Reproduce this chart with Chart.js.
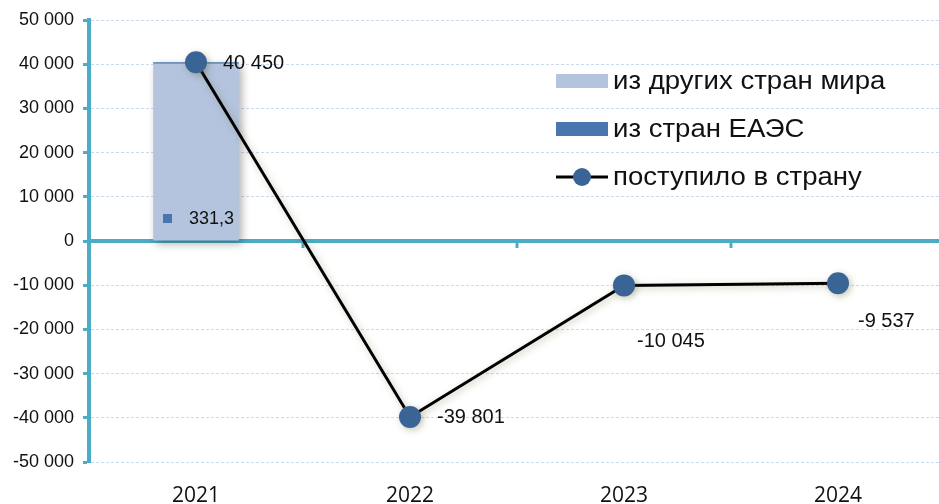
<!DOCTYPE html>
<html>
<head>
<meta charset="utf-8">
<script src="https://cdn.jsdelivr.net/npm/chart.js@4/dist/chart.umd.min.js"></script>
<style>
    html, body { margin: 0; padding: 0; background: #fff; overflow: hidden; }
</style>
</head>
<body>
<canvas id="chart" width="960" height="504"></canvas>
<script>
const years = ["2021", "2022", "2023", "2024"];
const fromOtherCountries = [40118.7, null, null, null];
const fromEaeu = [331.3, null, null, null];
const netInflow = [40450, -39801, -10045, -9537];

const seriesNames = ["из других стран мира", "из стран ЕАЭС", "поступило в страну"];
const eaeuLabels = ["331,3", null, null, null];

// where each line label sits relative to its point
const labelOffsets = [[27, 1], [27, 1], [13, 56], [20, 38]];

const teal = "#4BACC6";
const lightBar = "#B4C4DE";
const darkBar = "#4A76B0";
const pointColor = "#3B6496";

function formatNumber(v) {
    let s = String(Math.abs(Math.round(v))).replace(/\B(?=(\d{3})+(?!\d))/g, " ");
    return (v < 0 ? "-" : "") + s;
}

const shadowPlugin = {
    id: "shadows",
    beforeDatasetDraw(chart, args) {
        const ctx = chart.ctx;
        ctx.save();
        if (args.index === 2) {
            ctx.shadowColor = "rgba(90, 90, 40, 0.35)";
            ctx.shadowBlur = 7;
            ctx.shadowOffsetX = 2;
            ctx.shadowOffsetY = 2;
        } else {
            ctx.shadowColor = "rgba(0, 0, 0, 0.3)";
            ctx.shadowBlur = 8;
            ctx.shadowOffsetX = 3;
            ctx.shadowOffsetY = 3;
        }
    },
    afterDatasetDraw(chart) {
        chart.ctx.restore();
    }
};

const zeroLinePlugin = {
    id: "zeroLine",
    beforeDatasetsDraw(chart) {
        const ctx = chart.ctx;
        const area = chart.chartArea;
        const x = chart.scales.x;
        const y0 = chart.scales.y.getPixelForValue(0);
        ctx.save();
        ctx.strokeStyle = teal;
        ctx.lineWidth = 4;
        ctx.beginPath();
        ctx.moveTo(area.left, y0);
        ctx.lineTo(area.right, y0);
        ctx.stroke();
        // category boundary ticks
        ctx.lineWidth = 3;
        const step = x.getPixelForValue(1) - x.getPixelForValue(0);
        for (let i = 0; i < years.length - 1; i++) {
            const bx = x.getPixelForValue(i) + step / 2;
            ctx.beginPath();
            ctx.moveTo(bx, y0);
            ctx.lineTo(bx, y0 + 7);
            ctx.stroke();
        }
        ctx.restore();
    }
};

const labelsPlugin = {
    id: "valueLabels",
    afterDatasetsDraw(chart) {
        const ctx = chart.ctx;
        ctx.save();
        ctx.fillStyle = "#111";
        ctx.textAlign = "left";
        ctx.textBaseline = "middle";
        ctx.font = "20px 'Liberation Sans', Arial, sans-serif";
        chart.getDatasetMeta(2).data.forEach((pt, i) => {
            const off = labelOffsets[i];
            ctx.fillText(formatNumber(netInflow[i]), pt.x + off[0], pt.y + off[1]);
        });

        ctx.font = "18px 'Liberation Sans', Arial, sans-serif";
        const y0 = chart.scales.y.getPixelForValue(0);
        chart.getDatasetMeta(1).data.forEach((bar, i) => {
            if (!eaeuLabels[i]) return;
            ctx.fillStyle = darkBar;
            ctx.fillRect(bar.x - 33, y0 - 27, 9, 9);
            ctx.fillStyle = "#111";
            ctx.fillText(eaeuLabels[i], bar.x - 7, y0 - 22);
        });
        ctx.restore();
    }
};

const legendPlugin = {
    id: "insideLegend",
    afterDraw(chart) {
        const ctx = chart.ctx;
        const left = 556;
        const top = 81;
        const gap = 48;
        ctx.save();
        ctx.textBaseline = "middle";
        ctx.textAlign = "left";

        ctx.fillStyle = lightBar;
        ctx.fillRect(left, top - 7, 52, 14);
        ctx.fillStyle = darkBar;
        ctx.fillRect(left, top + gap - 7, 52, 14);

        const ly = top + gap * 2;
        ctx.strokeStyle = "#000";
        ctx.lineWidth = 3;
        ctx.beginPath();
        ctx.moveTo(left, ly);
        ctx.lineTo(left + 52, ly);
        ctx.stroke();
        ctx.fillStyle = pointColor;
        ctx.beginPath();
        ctx.arc(left + 26, ly, 9, 0, Math.PI * 2);
        ctx.fill();

        ctx.fillStyle = "#111";
        ctx.font = "26px 'Liberation Sans', Arial, sans-serif";
        for (let i = 0; i < seriesNames.length; i++) {
            ctx.save();
            ctx.translate(left + 57, top + gap * i + 1);
            ctx.scale(1.06, 1);
            ctx.fillText(seriesNames[i], 0, 0);
            ctx.restore();
        }
        ctx.restore();
    }
};

new Chart(document.getElementById("chart"), {
    data: {
        labels: years,
        datasets: [
            {
                type: "bar",
                label: seriesNames[1],
                data: fromEaeu,
                backgroundColor: darkBar,
                stack: "bars",
                order: 2,
                categoryPercentage: 1,
                barPercentage: 0.4
            },
            {
                type: "bar",
                label: seriesNames[0],
                data: fromOtherCountries,
                backgroundColor: lightBar,
                stack: "bars",
                order: 1,
                categoryPercentage: 1,
                barPercentage: 0.4
            },
            {
                type: "line",
                label: seriesNames[2],
                data: netInflow,
                borderColor: "#000",
                borderWidth: 3,
                pointRadius: 11,
                pointBackgroundColor: pointColor,
                pointBorderWidth: 0,
                stack: "line",
                order: 0,
                tension: 0
            }
        ]
    },
    options: {
        responsive: false,
        animation: false,
        layout: { padding: { top: 20, right: 15, left: 0, bottom: 0 } },
        plugins: {
            legend: { display: false },
            tooltip: { enabled: false }
        },
        scales: {
            x: {
                stacked: true,
                offset: true,
                grid: { display: false },
                border: { display: false },
                ticks: {
                    color: "#111",
                    padding: 13,
                    font: { family: "'Open Sans', sans-serif", size: 21 }
                },
                afterFit(scale) { scale.height = 42; }
            },
            y: {
                stacked: true,
                min: -50000,
                max: 50000,
                ticks: {
                    stepSize: 10000,
                    color: "#111",
                    padding: 9,
                    font: { family: "'Liberation Sans', Arial, sans-serif", size: 18 },
                    callback: v => formatNumber(v)
                },
                grid: {
                    color: "#C9D9EE",
                    lineWidth: 1,
                    tickColor: teal,
                    tickLength: 6,
                    tickWidth: 3
                },
                border: { color: teal, width: 4, dash: [3, 2] },
                afterFit(scale) { scale.width = 89; }
            }
        }
    },
    plugins: [shadowPlugin, zeroLinePlugin, labelsPlugin, legendPlugin]
});
</script>
</body>
</html>
